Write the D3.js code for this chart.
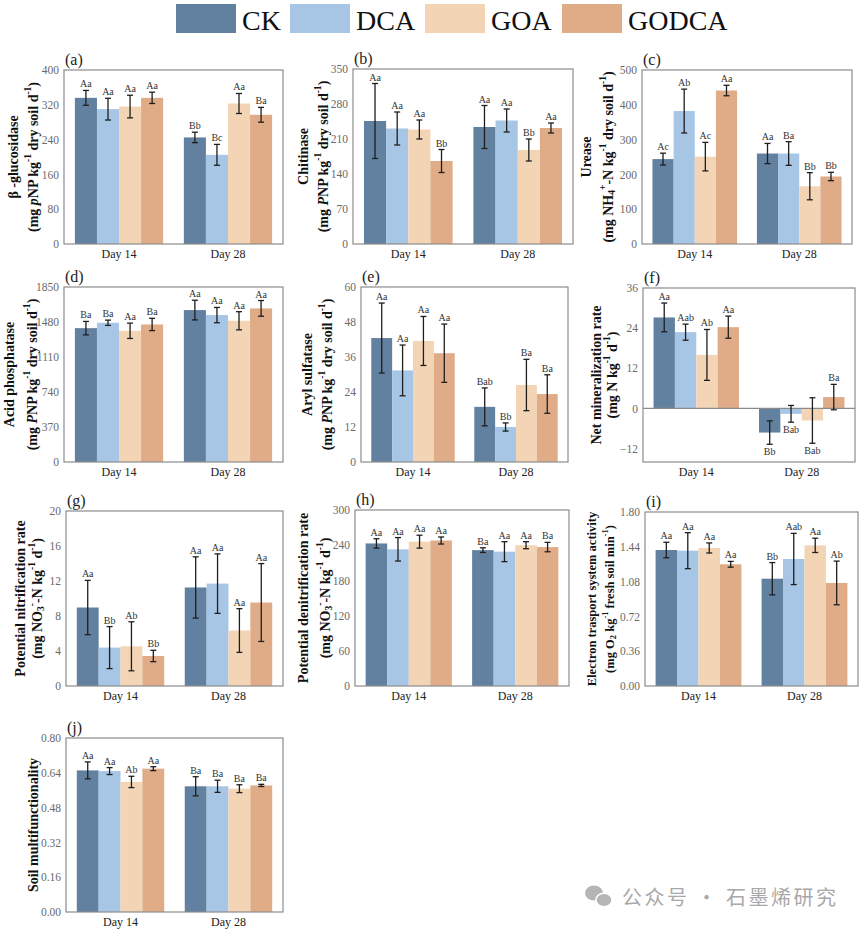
<!DOCTYPE html>
<html><head><meta charset="utf-8">
<script src="https://cdn.jsdelivr.net/npm/d3@7"></script>
<style>body{margin:0;background:#fff;} svg{display:block;} svg text{font-family:'Liberation Serif','Times New Roman',serif;}</style>
</head><body>
<script>
// ---------- DATA ----------
const groups = ["Day 14", "Day 28"];
const treatments = ["CK", "DCA", "GOA", "GODCA"];
const treatmentColors = ["#62809f", "#a7c5e4", "#f3d5b6", "#e0ac87"];

// (a) β-glucosidase
const gluMean = [[336, 310, 316, 336], [245, 205, 323, 297]];
const gluErr  = [[17, 25, 26, 13], [12, 24, 23, 17]];
const gluSig  = [["Aa","Aa","Aa","Aa"], ["Bb","Bc","Aa","Ba"]];
const gluTicks = [0, 80, 160, 240, 320, 400];
// (b) Chitinase
const chiMean = [[246, 231, 229, 166], [234, 247, 188, 232]];
const chiErr  = [[75, 33, 19, 23], [43, 23, 22, 10]];
const chiSig  = [["Aa","Aa","Aa","Bb"], ["Aa","Aa","Bb","Aa"]];
const chiTicks = [0, 70, 140, 210, 280, 350];
// (c) Urease
const ureMean = [[244, 382, 251, 441], [260, 260, 166, 194]];
const ureErr  = [[17, 63, 41, 15], [29, 34, 39, 12]];
const ureSig  = [["Ac","Ab","Ac","Aa"], ["Aa","Ba","Bb","Bb"]];
const ureTicks = [0, 100, 200, 300, 400, 500];
// (d) Acid phosphatase
const acpMean = [[1415, 1472, 1387, 1454], [1606, 1553, 1493, 1624]];
const acpErr  = [[71, 28, 81, 65], [104, 81, 96, 83]];
const acpSig  = [["Ba","Ba","Aa","Ba"], ["Aa","Aa","Aa","Aa"]];
const acpTicks = [0, 370, 740, 1110, 1480, 1850];
// (e) Aryl sulfatase
const arsMean = [[42.5, 31.4, 41.5, 37.3], [18.9, 12.0, 26.4, 23.3]];
const arsErr  = [[12, 8.7, 8.4, 10], [6.5, 1.4, 8.8, 6.6]];
const arsSig  = [["Aa","Aa","Aa","Aa"], ["Bab","Bb","Ba","Ba"]];
const arsTicks = [0, 12, 24, 36, 48, 60];
// (f) Net mineralization rate
const minMean = [[27.2, 22.8, 16.0, 24.3], [-7.2, -1.6, -3.6, 3.4]];
const minErr  = [[4.3, 2.4, 7.6, 3.3], [3.5, 2.5, 6.8, 3.8]];
const minSig  = [["Aa","Aab","Ab","Aa"], ["Bb","Bab","Bab","Ba"]];
const minTicks = [-12, 0, 12, 24, 36];
// (g) Potential nitrification rate
const nitMean = [[8.97, 4.39, 4.54, 3.43], [11.26, 11.7, 6.34, 9.54]];
const nitErr  = [[3.1, 2.4, 2.8, 0.65], [3.5, 3.4, 2.5, 4.45]];
const nitSig  = [["Aa","Bb","Ab","Bb"], ["Aa","Aa","Aa","Aa"]];
const nitTicks = [0, 4, 8, 12, 16, 20];
// (h) Potential denitrification rate
const denMean = [[243, 233, 246, 248], [231.6, 229, 240, 236.8]];
const denErr  = [[8, 20, 11, 6], [4, 17, 6, 8]];
const denSig  = [["Aa","Aa","Aa","Aa"], ["Ba","Aa","Aa","Ba"]];
const denTicks = [0, 60, 120, 180, 240, 300];
// (i) Electron transport system activity
const etsMean = [[1.407, 1.400, 1.428, 1.259], [1.110, 1.314, 1.455, 1.066]];
const etsErr  = [[0.08, 0.186, 0.052, 0.03], [0.167, 0.265, 0.074, 0.226]];
const etsSig  = [["Aa","Aa","Aa","Aa"], ["Bb","Aab","Aa","Ab"]];
const etsTicks = [0, 0.36, 0.72, 1.08, 1.44, 1.80];
// (j) Soil multifunctionality
const mfMean = [[0.651, 0.648, 0.598, 0.659], [0.578, 0.578, 0.567, 0.582]];
const mfErr  = [[0.039, 0.016, 0.026, 0.009], [0.044, 0.028, 0.018, 0.005]];
const mfSig  = [["Aa","Aa","Ab","Aa"], ["Ba","Ba","Ba","Ba"]];
const mfTicks = [0, 0.16, 0.32, 0.48, 0.64, 0.80];

// ---------- LAYOUT ----------
const SERIF = "'Liberation Serif','Times New Roman',serif";
const panels = [
  {lab:"(a)", mean:gluMean, err:gluErr, sig:gluSig, ticks:gluTicks, fmt:d3.format("d"),
   x0:64, x1:283, y0:70, y1:244, t:["β -glucosidase","(mg <i>p</i>NP kg<sup>-1</sup> dry soil d<sup>-1</sup>)"], tx:[-51,-31], fs:14},
  {lab:"(b)", mean:chiMean, err:chiErr, sig:chiSig, ticks:chiTicks, fmt:d3.format("d"),
   x0:353, x1:573, y0:69, y1:244, t:["Chitinase","(mg <i>P</i>NP kg<sup>-1</sup> dry soil d<sup>-1</sup>)"], tx:[-50,-30], fs:14},
  {lab:"(c)", mean:ureMean, err:ureErr, sig:ureSig, ticks:ureTicks, fmt:d3.format("d"),
   x0:642, x1:852, y0:70, y1:244, t:["Urease","(mg NH<sub>4</sub><sup>+</sup>-N kg<sup>-1</sup> dry soil d<sup>-1</sup>)"], tx:[-56,-34], fs:14},
  {lab:"(d)", mean:acpMean, err:acpErr, sig:acpSig, ticks:acpTicks, fmt:d3.format("d"),
   x0:64, x1:283, y0:287, y1:462, t:["Acid phosphatase","(mg <i>P</i>NP kg<sup>-1</sup> dry soil d<sup>-1</sup>)"], tx:[-55,-32], fs:14},
  {lab:"(e)", mean:arsMean, err:arsErr, sig:arsSig, ticks:arsTicks, fmt:d3.format("d"),
   x0:361, x1:568, y0:287, y1:462, t:["Aryl sulfatase","(mg <i>P</i>NP kg<sup>-1</sup> dry soil d<sup>-1</sup>)"], tx:[-54,-34], fs:14},
  {lab:"(f)", mean:minMean, err:minErr, sig:minSig, ticks:minTicks, fmt:d3.format("d"), yMin:-16,
   x0:643, x1:855, y0:288, y1:462, t:["Net mineralization rate","(mg N kg<sup>-1</sup> d<sup>-1</sup>)"], tx:[-47,-31], fs:14},
  {lab:"(g)", mean:nitMean, err:nitErr, sig:nitSig, ticks:nitTicks, fmt:d3.format("d"),
   x0:66, x1:283, y0:511, y1:686, t:["Potential nitrification rate","(mg NO<sub>3</sub><sup>-</sup>-N kg<sup>-1</sup> d<sup>-1</sup>)"], tx:[-46,-29], fs:14},
  {lab:"(h)", mean:denMean, err:denErr, sig:denSig, ticks:denTicks, fmt:d3.format("d"),
   x0:355, x1:569, y0:510, y1:686, t:["Potential denitrification rate","(mg NO<sub>3</sub><sup>-</sup>-N kg<sup>-1</sup> d<sup>-1</sup>)"], tx:[-52,-30], fs:14},
  {lab:"(i)", mean:etsMean, err:etsErr, sig:etsSig, ticks:etsTicks, fmt:d3.format(".2f"),
   x0:645, x1:858, y0:512, y1:686, t:["Electron trasport system activity","(mg O<sub>2</sub> kg<sup>-1</sup> fresh soil min<sup>-1</sup>)"], tx:[-53,-35], fs:12.5},
  {lab:"(j)", mean:mfMean, err:mfErr, sig:mfSig, ticks:mfTicks, fmt:d3.format(".2f"),
   x0:66, x1:283, y0:738, y1:912, t:["Soil multifunctionality"], tx:[-33], fs:14}
];

const svg = d3.select("body").append("svg").attr("width", 862).attr("height", 930);

function richText(sel, str, fs) {
  const parts = str.split(/(<sup>.*?<\/sup>|<sub>.*?<\/sub>|<i>.*?<\/i>)/).filter(s => s.length);
  let shift = 0;
  parts.forEach(p => {
    let m, txt = p, tgt = 0, small = false, ital = false;
    if ((m = p.match(/^<sup>(.*)<\/sup>$/))) { txt = m[1]; tgt = -0.38 * fs; small = true; }
    else if ((m = p.match(/^<sub>(.*)<\/sub>$/))) { txt = m[1]; tgt = 0.25 * fs; small = true; }
    else if ((m = p.match(/^<i>(.*)<\/i>$/))) { txt = m[1]; ital = true; }
    const ts = sel.append("tspan").text(txt).attr("dy", tgt - shift);
    shift = tgt;
    if (small) ts.style("font-size", (fs * 0.68) + "px");
    if (ital) ts.style("font-style", "italic");
  });
}

panels.forEach(P => {
  const g = svg.append("g");
  const yMin = P.yMin !== undefined ? P.yMin : P.ticks[0];
  const y = d3.scaleLinear().domain([yMin, P.ticks[P.ticks.length - 1]]).range([P.y1, P.y0]);
  const xg = d3.scaleBand().domain(groups).range([P.x0, P.x1]).paddingInner(0.19).paddingOuter(0.1);
  const xs = d3.scaleBand().domain(treatments).range([0, xg.bandwidth()]).padding(0);
  const color = d3.scaleOrdinal().domain(treatments).range(treatmentColors);

  const rows = [];
  groups.forEach((gr, gi) => treatments.forEach((tr, ti) => rows.push({
    gr, tr, v: P.mean[gi][ti], e: P.err[gi][ti], s: P.sig[gi][ti]
  })));

  g.selectAll("rect.bar").data(rows).join("rect").attr("class", "bar")
    .attr("x", d => xg(d.gr) + xs(d.tr))
    .attr("width", xs.bandwidth())
    .attr("y", d => y(Math.max(0, d.v)))
    .attr("height", d => Math.abs(y(d.v) - y(0)))
    .attr("fill", d => color(d.tr));

  if (yMin < 0) {
    g.append("line").attr("x1", P.x0).attr("x2", P.x1).attr("y1", y(0)).attr("y2", y(0))
      .attr("stroke", "#8a8a8a").attr("stroke-width", 1.2);
  }

  const cx = d => xg(d.gr) + xs(d.tr) + xs.bandwidth() / 2;
  const eb = g.selectAll("g.eb").data(rows).join("g").attr("class", "eb")
    .attr("stroke", "#1e1e1e").attr("stroke-width", 1.3);
  eb.append("line").attr("x1", cx).attr("x2", cx).attr("y1", d => y(d.v - d.e)).attr("y2", d => y(d.v + d.e));
  eb.append("line").attr("x1", d => cx(d) - 3).attr("x2", d => cx(d) + 3).attr("y1", d => y(d.v + d.e)).attr("y2", d => y(d.v + d.e));
  eb.append("line").attr("x1", d => cx(d) - 3).attr("x2", d => cx(d) + 3).attr("y1", d => y(d.v - d.e)).attr("y2", d => y(d.v - d.e));

  g.selectAll("text.sig").data(rows).join("text").attr("class", "sig")
    .attr("x", cx)
    .attr("y", d => d.v >= 0 ? y(d.v + d.e) - 3 : y(d.v - d.e) + 11)
    .attr("text-anchor", "middle").style("font-size", "10px").attr("fill", "#333")
    .text(d => d.s);

  g.append("rect").attr("x", P.x0).attr("y", P.y0).attr("width", P.x1 - P.x0).attr("height", P.y1 - P.y0)
    .attr("fill", "none").attr("stroke", "#8c8c8c").attr("stroke-width", 1.2);

  const ya = g.append("g").attr("transform", `translate(${P.x0},0)`)
    .call(d3.axisLeft(y).tickValues(P.ticks).tickFormat(P.fmt).tickSize(0).tickPadding(5));
  ya.select(".domain").remove();
  ya.attr("font-family", null);
  ya.selectAll("text").style("font-family", SERIF).style("font-size", "11.5px").attr("fill", "#6a6a6a");

  const xa = g.append("g").attr("transform", `translate(0,${P.y1})`)
    .call(d3.axisBottom(xg).tickSize(0).tickPadding(5));
  xa.select(".domain").remove();
  xa.attr("font-family", null);
  xa.selectAll("text").style("font-family", SERIF).style("font-size", "12px").attr("fill", "#222");

  g.append("text").attr("x", P.x0 + 1).attr("y", P.y0 - 5).style("font-size", "16px").attr("fill", "#222").text(P.lab);

  const cy = (P.y0 + P.y1) / 2;
  P.t.forEach((line, li) => {
    const t = g.append("text")
      .attr("transform", `translate(${P.x0 + P.tx[li]},${cy}) rotate(-90)`)
      .attr("text-anchor", "middle").attr("dominant-baseline", "central")
      .style("font-weight", "bold").style("font-size", P.fs + "px").attr("fill", "#111");
    richText(t, line, P.fs);
  });
});

// ---------- LEGEND ----------
const legX = [176, 290, 425, 562];
const leg = svg.append("g");
treatments.forEach((tr, i) => {
  leg.append("rect").attr("x", legX[i]).attr("y", 4).attr("width", 60).attr("height", 29).attr("fill", treatmentColors[i]);
  leg.append("text").attr("x", legX[i] + 66).attr("y", 30).style("font-size", "28px").attr("fill", "#111").text(tr);
});

// ---------- WATERMARK ----------
const wm = svg.append("g");
wm.append("ellipse").attr("cx", 594).attr("cy", 893).attr("rx", 9).attr("ry", 7.5).attr("fill", "#b5b5b5");
wm.append("ellipse").attr("cx", 604).attr("cy", 900).attr("rx", 8).attr("ry", 6.8).attr("fill", "#b5b5b5").attr("stroke", "#fff").attr("stroke-width", 1.5);
wm.append("text").attr("x", 622).attr("y", 905)
  .style("font-family", "'Noto Sans CJK SC',sans-serif")
  .style("font-size", "20px").attr("letter-spacing", 2.5).attr("fill", "#a8a8a8").text("公众号 · 石墨烯研究");
</script>
</body></html>
